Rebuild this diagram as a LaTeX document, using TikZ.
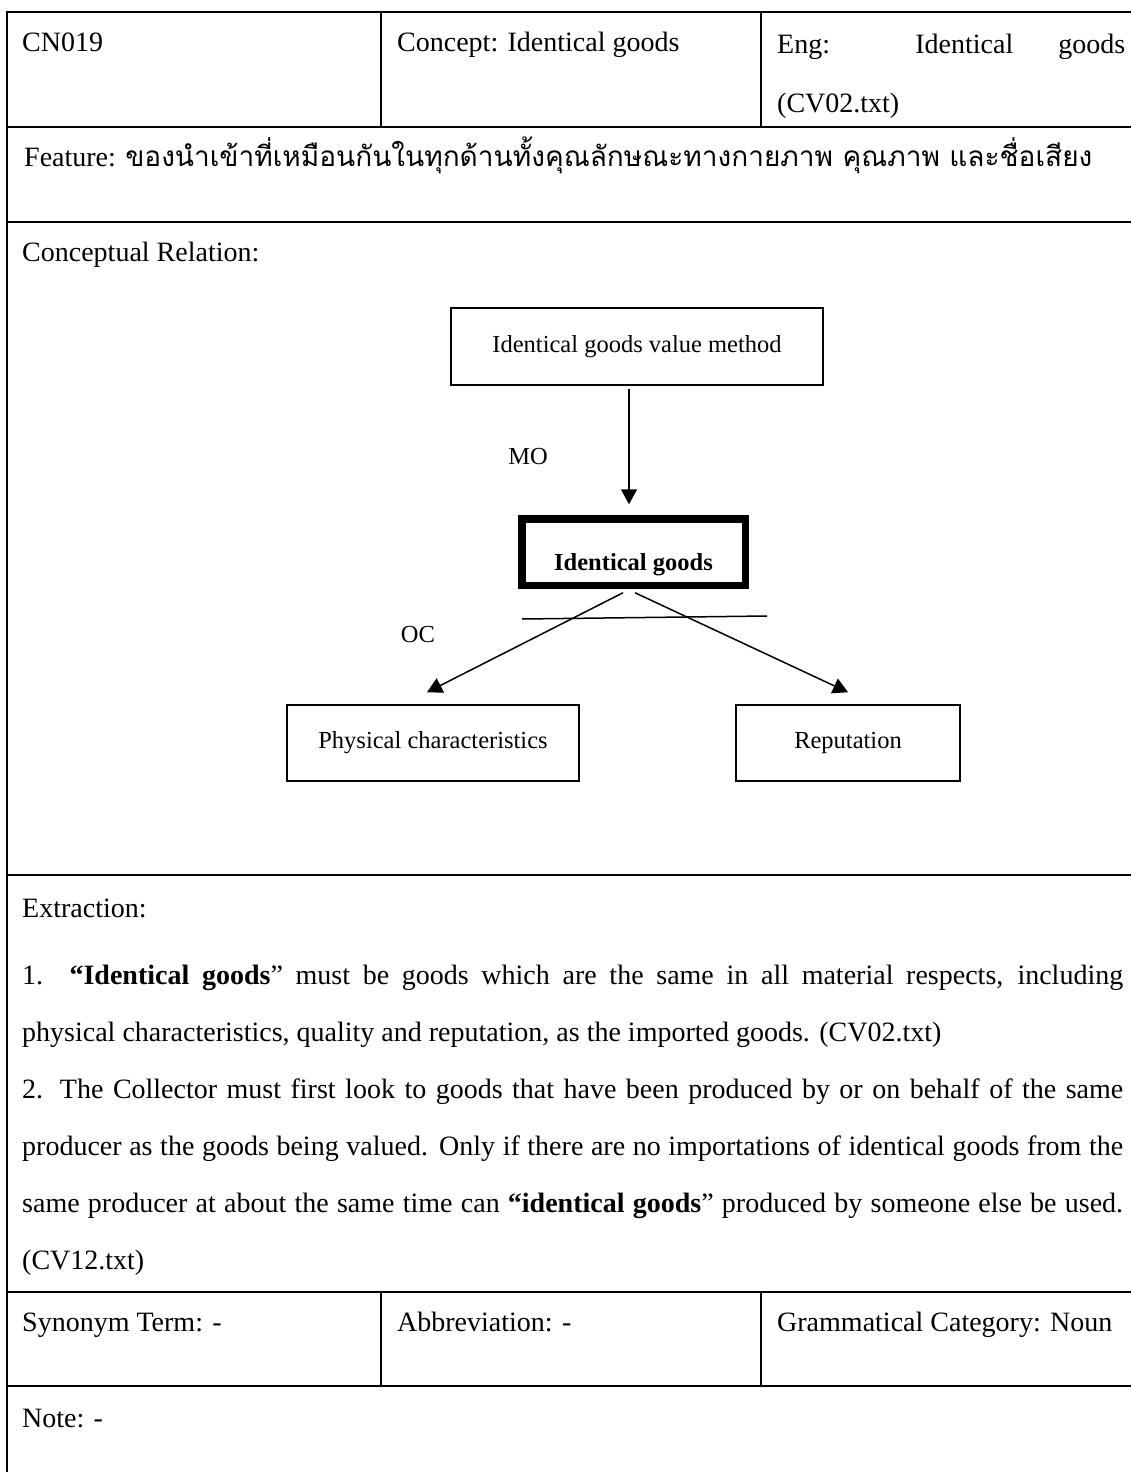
\documentclass[tikz,border=0pt]{standalone}
\usepackage{fontspec}
\usepackage{graphicx}
\setmainfont{Liberation Serif}
\newfontfamily\thaifont[Script=Thai]{Loma}
\usetikzlibrary{arrows.meta,calc}

\begin{document}
\begin{tikzpicture}[x=1pt,y=-1pt,
  rule/.style={line width=2.4pt},
  colrule/.style={line width=1.8pt},
  tabtext/.style={anchor=base west, inner sep=0pt, font=\fontsize{28}{34}\selectfont},
  dgfont/.style={font=\fontsize{24.5}{29}\selectfont},
  dbox/.style={draw, line width=1.5pt, inner sep=0pt, dgfont},
  focusbox/.style={draw, line width=7.5pt, inner sep=0pt, dgfont},
  conn/.style={line width=1.5pt, -{Triangle[width=16pt,length=15pt]}},
]
\useasboundingbox (0,0) rectangle (1131,1472);

% ---- table rules ----
\draw[rule] (5.8,12) -- (1131,12);
\draw[rule] (7,12) -- (7,1472);
\draw[rule] (7,127) -- (1131,127);
\draw[rule] (7,222) -- (1131,222);
\draw[rule] (7,875) -- (1131,875);
\draw[rule] (7,1292) -- (1131,1292);
\draw[rule] (7,1386) -- (1131,1386);
\draw[colrule] (381,12) -- (381,127);
\draw[colrule] (761,12) -- (761,127);
\draw[colrule] (381,1292) -- (381,1386);
\draw[colrule] (761,1292) -- (761,1386);

% ---- header row ----
\node[tabtext] (cn) at (22,52) {CN019};
\node[tabtext] (concept) at (397,52) {Concept: Identical goods};
\node[tabtext] (eng) at (777,53) {\makebox[348pt][s]{Eng: Identical goods}};
\node[tabtext] (engsrc) at (777,112) {(CV02.txt)};

% ---- feature row ----
\node[tabtext] (feature) at (24,166) {Feature: \resizebox{967pt}{\height}{\thaifont ของนำเข้าที่เหมือนกันในทุกด้านทั้งคุณลักษณะทางกายภาพ คุณภาพ และชื่อเสียง}};

% ---- conceptual relation ----
\node[tabtext] (crel) at (22,261) {Conceptual Relation:};

\node[dbox, minimum width=372pt, minimum height=77pt] (method) at (637,346.5) {Identical goods value method};
\node[focusbox, minimum width=223.5pt, minimum height=66.5pt, text height=42pt, text depth=6pt] (ig) at (633.5,552) {\textbf{Identical goods}};
\node[dbox, minimum width=292pt, minimum height=76pt] (phys) at (433,743) {Physical characteristics};
\node[dbox, minimum width=224pt, minimum height=76pt] (rep) at (848,743) {Reputation};
\node[dgfont, inner sep=0pt] (mo) at (528,457) {MO};
\node[dgfont, inner sep=0pt] (oc) at (418,635) {OC};

\draw[conn] ([shift={(-8,3)}]method.south) -- ([shift={(-4.5,-10.75)}]ig.north);
\draw[conn] ([shift={(-10.5,3.75)}]ig.south) -- ([shift={(-6,-12)}]phys.north);
\draw[conn] ([shift={(1.5,3.75)}]ig.south) -- ([shift={(0,-12)}]rep.north);

\coordinate (barL) at (522,619);
\coordinate (barR) at (767,616);
\draw[line width=1.5pt] (barL) -- (barR);

% ---- extraction ----
\node[tabtext] (ex) at (22,917) {Extraction:};
\node[tabtext] (ex1) at (22,984) {\makebox[1101pt][s]{1. \textbf{“Identical goods}” must be goods which are the same in all material respects, including}};
\node[tabtext] (ex2) at (22,1041) {physical characteristics, quality and reputation, as the imported goods. (CV02.txt)};
\node[tabtext] (ex3) at (22,1098) {\makebox[1101pt][s]{2. The Collector must first look to goods that have been produced by or on behalf of the same}};
\node[tabtext] (ex4) at (22,1155) {\makebox[1101pt][s]{producer as the goods being valued. Only if there are no importations of identical goods from the}};
\node[tabtext] (ex5) at (22,1212) {\makebox[1101pt][s]{same producer at about the same time can \textbf{“identical goods}” produced by someone else be used.}};
\node[tabtext] (ex6) at (22,1269) {(CV12.txt)};

% ---- bottom rows ----
\node[tabtext] (syn) at (22,1331) {Synonym Term: -};
\node[tabtext] (abbr) at (397,1331) {Abbreviation: -};
\node[tabtext] (gram) at (777,1331) {Grammatical Category: Noun};
\node[tabtext] (note) at (22,1427) {Note: -};
\end{tikzpicture}
\end{document}
